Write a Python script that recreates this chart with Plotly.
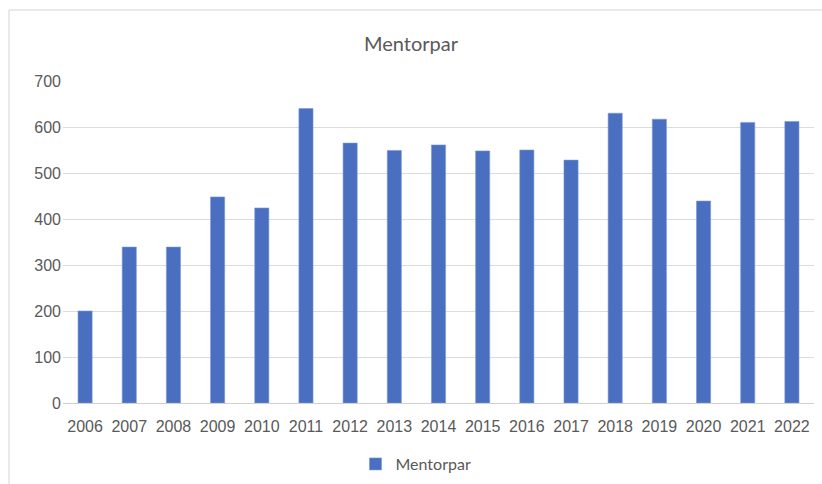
import plotly.graph_objects as go

years = ["2006", "2007", "2008", "2009", "2010", "2011", "2012", "2013", "2014",
         "2015", "2016", "2017", "2018", "2019", "2020", "2021", "2022"]
mentorpar = [200, 339, 339, 448, 424, 640, 565, 549, 561, 548, 550, 528, 630, 617, 439, 610, 612]
y_ticks = [0, 100, 200, 300, 400, 500, 600, 700]

W, H = 822, 484
ML, MR, MT, MB = 63, 8, 81, 81
PW, PH = W - ML - MR, H - MT - MB

def px_x(p):
    return (p - ML) / PW

def px_y(p):
    return (H - MB - p) / PH

fig = go.Figure()
fig.add_trace(go.Bar(
    x=years, y=mentorpar, name="Mentorpar",
    marker=dict(color="#4a6fc0", line=dict(color="#7b97d6", width=0.6)),
    showlegend=True,
))

border = "#e3e3e3"
fig.add_shape(type="line", xref="paper", yref="paper",
              x0=px_x(9), x1=px_x(822), y0=px_y(10), y1=px_y(10),
              line=dict(color=border, width=1.5))
fig.add_shape(type="line", xref="paper", yref="paper",
              x0=px_x(9), x1=px_x(9), y0=px_y(10), y1=px_y(484),
              line=dict(color=border, width=1.5))

fig.update_layout(
    width=W, height=H,
    margin=dict(l=ML, r=MR, t=MT, b=MB),
    paper_bgcolor="white", plot_bgcolor="white",
    bargap=0.68,
    title=dict(text="Mentorpar", x=411 / W, xref="container", xanchor="center",
               y=1 - 44 / H, yref="container", yanchor="middle",
               font=dict(family="Lato, Open Sans, sans-serif", size=20, color="#595959")),
    xaxis=dict(type="category", showgrid=False, showline=False, ticks="",
               tickfont=dict(family="Liberation Sans, Arial, sans-serif", size=16, color="#595959"),
               ticklabelstandoff=12),
    yaxis=dict(range=[0, 700], tickvals=y_ticks, showgrid=True, gridcolor="#dcdcdc", gridwidth=1,
               zeroline=True, zerolinecolor="#d0d0d0", zerolinewidth=1.2,
               showline=False, ticks="",
               tickfont=dict(family="Liberation Sans, Arial, sans-serif", size=16, color="#595959"),
               ticklabelstandoff=1),
    legend=dict(orientation="h", x=px_x(416), xanchor="center",
                y=1 - 464 / H, yref="container", yanchor="middle",
                font=dict(family="Lato, Open Sans, sans-serif", size=16, color="#595959"),
                itemwidth=30),
)

fig.write_html("out.html", config={"displayModeBar": False},
               post_script="document.body.style.margin='0';document.body.style.overflow='hidden';")
